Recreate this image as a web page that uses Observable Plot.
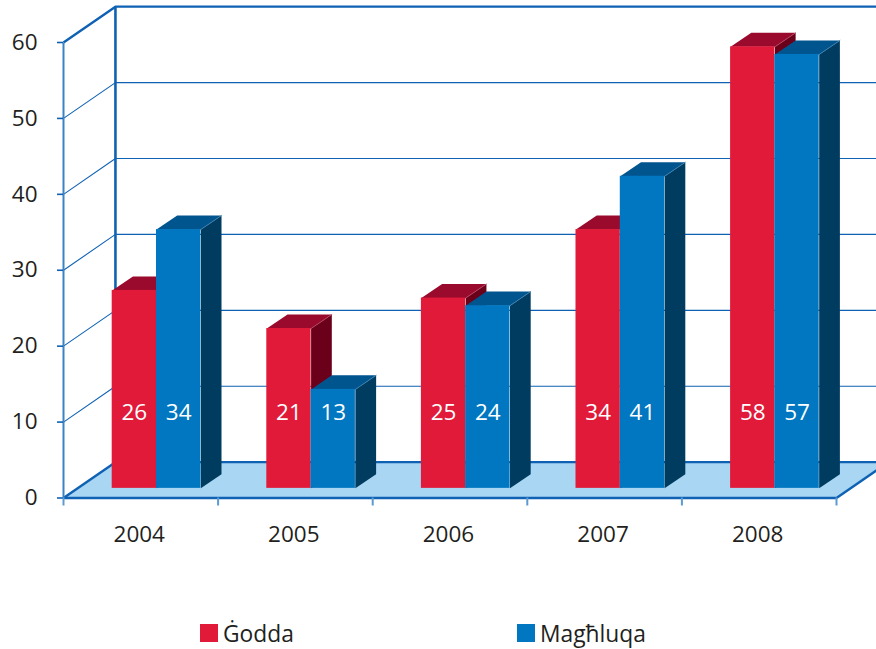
<!DOCTYPE html>
<html>
<head>
<meta charset="utf-8">
<script src="https://cdn.jsdelivr.net/npm/d3@7"></script>
<script src="https://cdn.jsdelivr.net/npm/@observablehq/plot@0.6"></script>
<style>
html,body{margin:0;padding:0;background:#fff;overflow:hidden}
#legend{position:relative;height:39px;font-family:"Open Sans",sans-serif;font-size:22.8px;color:#231f20}
#legend span{position:absolute;white-space:nowrap}
#legend i{position:absolute;width:18px;height:18px;top:14px}
</style>
</head>
<body>
<div id="chart"></div>
<div id="legend"></div>
<script>
const years = ["2004", "2005", "2006", "2007", "2008"];
const godda = [26, 21, 25, 34, 58];
const maghluqa = [34, 13, 24, 41, 57];
const yTicks = [0, 10, 20, 30, 40, 50, 60];
const xTicks = [0, 1, 2, 3, 4, 5];
const seriesNames = ["Ġodda", "Magħluqa"];

const wall = {dx: 0.336, dy: 4.72};
const bar = {start: 0.315, width: 0.2865, dx: 0.134, dy: 1.85, lift: 1.27, stretch: 1.0027};
const gridColor = "#0f62b3";
const colors = {
  red: {front: "#e01a38", top: "#9a0a2c", side: "#6a0019", edge: "#b8486a"},
  blue: {front: "#0077c0", top: "#00558f", side: "#003b60", edge: "#3f86b8"}
};

function barRows(values, slot) {
  return values.map((v, i) => {
    const x1 = i + bar.start + slot * bar.width;
    return {v, x1, x2: x1 + bar.width, y1: bar.lift, y2: bar.lift + v * bar.stretch};
  });
}
function topFaces(rows) {
  return rows.flatMap((r, id) => [
    {id, x: r.x1, y: r.y2},
    {id, x: r.x2, y: r.y2},
    {id, x: r.x2 + bar.dx, y: r.y2 + bar.dy},
    {id, x: r.x1 + bar.dx, y: r.y2 + bar.dy}
  ]);
}
function sideFaces(rows) {
  return rows.flatMap((r, id) => [
    {id, x: r.x2, y: r.y1},
    {id, x: r.x2 + bar.dx, y: r.y1 + bar.dy},
    {id, x: r.x2 + bar.dx, y: r.y2 + bar.dy},
    {id, x: r.x2, y: r.y2}
  ]);
}
function edgeLines(rows) {
  return rows.flatMap((r, id) => [
    {id, x: r.x2, y: r.y2},
    {id, x: r.x2 + bar.dx, y: r.y2 + bar.dy}
  ]);
}
function barMarks(rows, c) {
  return [
    Plot.line(topFaces(rows), {x: "x", y: "y", z: "id", fill: c.top, stroke: "none"}),
    Plot.line(sideFaces(rows), {x: "x", y: "y", z: "id", fill: c.side, stroke: "none"}),
    Plot.line(edgeLines(rows), {x: "x", y: "y", z: "id", stroke: c.edge, strokeWidth: 0.8}),
    Plot.rect(rows, {x1: "x1", x2: "x2", y1: "y1", y2: "y2", fill: c.front})
  ];
}

const xEnd = xTicks[xTicks.length - 1];
const floor = [
  {x: 0, y: 0}, {x: xEnd, y: 0}, {x: xEnd + wall.dx, y: wall.dy}, {x: wall.dx, y: wall.dy}
];
const grid = yTicks.flatMap(t => [
  {t, x: 0, y: t}, {t, x: wall.dx, y: t + wall.dy}, {t, x: xEnd + wall.dx, y: t + wall.dy}
]);
const heavy = grid.filter(d => d.t === 0 || d.t === 60);
const light = grid.filter(d => d.t !== 0 && d.t !== 60);
const frontEdge = [{x: 0, y: 0}, {x: xEnd, y: 0}, {x: xEnd + wall.dx, y: wall.dy}];
const leftEdge = [{x: 0, y: 0}, {x: 0, y: 60}];
const backEdge = [{x: wall.dx, y: wall.dy}, {x: wall.dx, y: 60 + wall.dy}];

const redRows = barRows(godda, 0);
const blueRows = barRows(maghluqa, 1);
const lineOpts = {x: "x", y: "y", stroke: gridColor, strokeLinecap: "butt"};

const plot = Plot.plot({
  width: 876,
  height: 610,
  marginLeft: 63,
  marginRight: 40,
  marginTop: 0,
  marginBottom: 0,
  x: {domain: [0, xEnd], range: [63, 836], axis: null},
  y: {domain: [0, 60], range: [497.5, 42], axis: null},
  style: {fontFamily: '"Open Sans", sans-serif', background: "#fff"},
  marks: [
    Plot.line(floor, {x: "x", y: "y", fill: "#a8d6f3", stroke: "none"}),
    Plot.line(light, {...lineOpts, z: "t", strokeWidth: 1.1}),
    Plot.line(heavy, {...lineOpts, z: "t", strokeWidth: 2.4}),
    Plot.line(frontEdge, {...lineOpts, strokeWidth: 2.4}),
    Plot.line(leftEdge, {...lineOpts, stroke: "#3a84c6", strokeWidth: 2}),
    Plot.line(backEdge, {...lineOpts, strokeWidth: 2.6}),
    Plot.axisY({
      ticks: yTicks, tickSize: 6, tickPadding: 20, stroke: gridColor, color: "#231f20",
      fontSize: 22.5, label: null, strokeWidth: 1.6
    }),
    Plot.axisX({
      ticks: xTicks, tickSize: 8, tickFormat: () => "", stroke: "#5b9ad2", label: null,
      anchor: "bottom", y: 0, strokeWidth: 2
    }),
    ...barMarks(redRows, colors.red),
    ...barMarks(blueRows, colors.blue),
    Plot.text(redRows, {x: d => (d.x1 + d.x2) / 2, y: () => 11.2, text: d => String(d.v), fill: "#fff", fontSize: 22.5}),
    Plot.text(blueRows, {x: d => (d.x1 + d.x2) / 2, y: () => 11.2, text: d => String(d.v), fill: "#fff", fontSize: 22.5}),
    Plot.text(years, {x: (d, i) => i + 0.49, y: () => -4.85, text: d => d, fill: "#231f20", fontSize: 22.5})
  ]
});
document.getElementById("chart").appendChild(plot);

const legend = document.getElementById("legend");
[[200, 223, colors.red.front], [517, 540, colors.blue.front]].forEach(([sx, tx, col], i) => {
  const sw = document.createElement("i");
  sw.style.left = sx + "px";
  sw.style.background = col;
  legend.appendChild(sw);
  const lab = document.createElement("span");
  lab.style.left = tx + "px";
  lab.style.top = "8px";
  lab.textContent = seriesNames[i];
  legend.appendChild(lab);
});
</script>
</body>
</html>
